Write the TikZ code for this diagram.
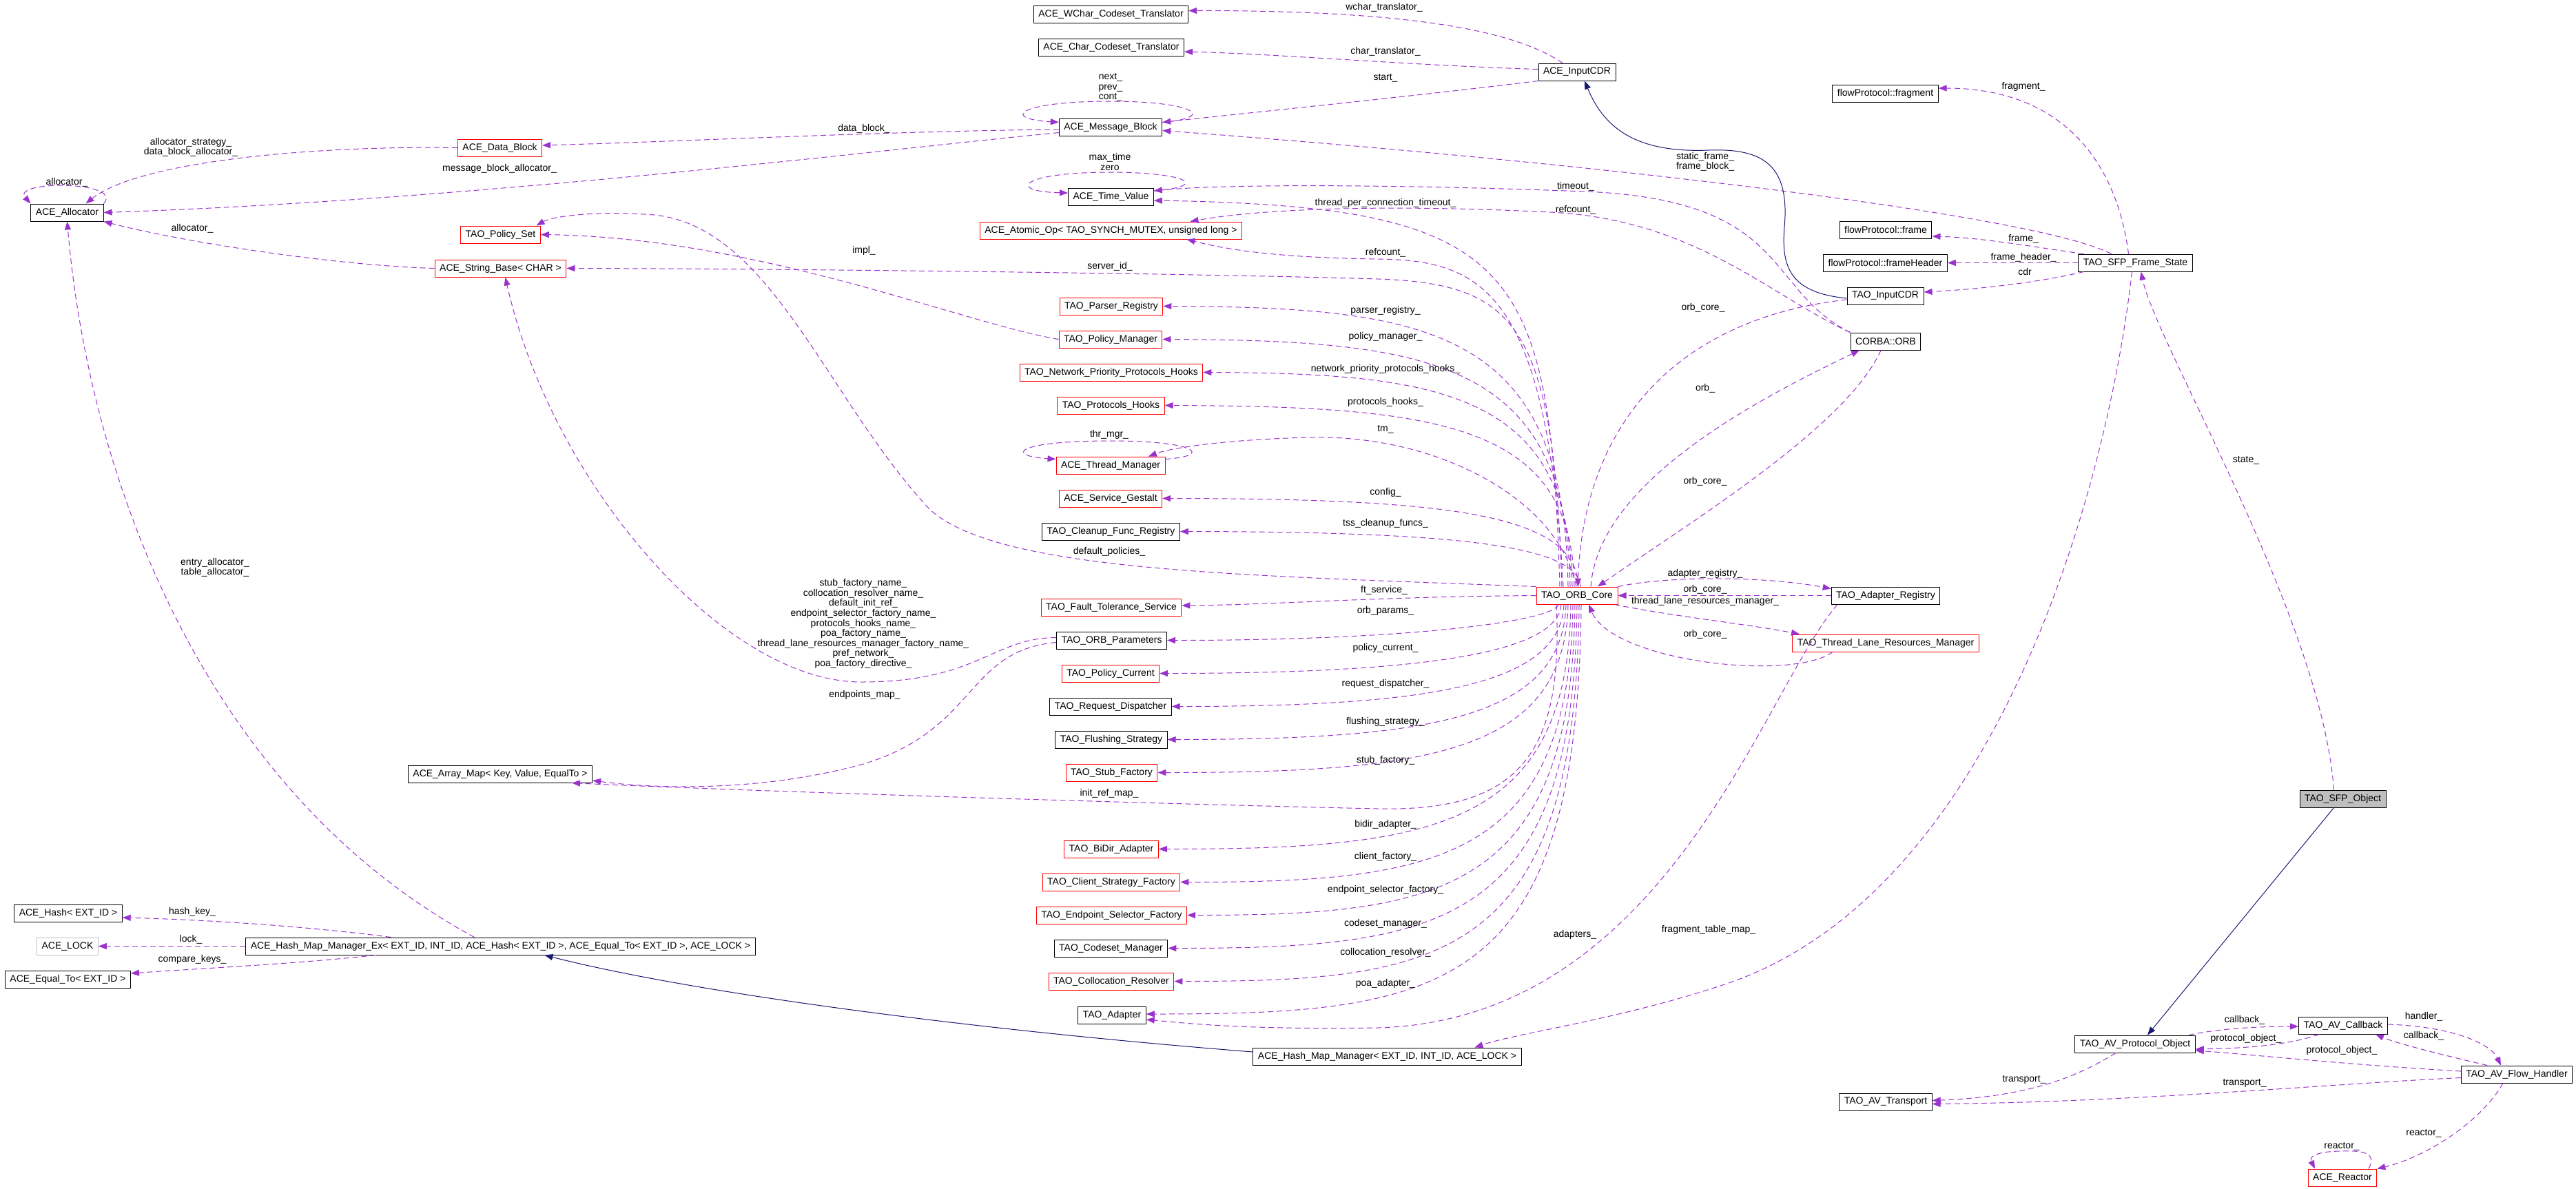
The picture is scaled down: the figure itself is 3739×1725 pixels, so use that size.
\documentclass[tikz,border=0pt]{standalone}
\usepackage{fontspec}
\setmainfont{Liberation Sans}
\usetikzlibrary{arrows.meta}
\definecolor{edgepurple}{RGB}{154,50,205}
\definecolor{inhblue}{RGB}{25,25,112}
\definecolor{curgrey}{RGB}{191,191,191}
\newcommand{\dxfont}{\fontsize{14}{14.6}\selectfont}

\begin{document}
\begin{tikzpicture}[x=1pt,y=-1pt,
  cls/.style={draw=black,line width=1pt,fill=white,font=\dxfont,inner xsep=7pt,inner ysep=0pt,minimum height=25pt},
  rcls/.style={cls,draw=red},
  gcls/.style={cls,draw=curgrey},
  curcls/.style={cls,fill=curgrey},
  lbl/.style={font=\dxfont,inner sep=0pt,align=center},
  mem/.style={draw=edgepurple,line width=1pt,dash pattern=on 8pt off 5pt,-{Triangle[length=12pt,width=9pt]}},
  inh/.style={draw=inhblue,line width=1pt,-{Triangle[length=12pt,width=9pt]}}]

 \path[use as bounding box,fill=white] (0,0) rectangle (3739,1725);

 % classes, left side
 \node[cls] (alloc) at (97.5,308.5) {ACE\_Allocator};
 \node[cls] (hash) at (99,1325.5) {ACE\_Hash< EXT\_ID >};
 \node[gcls] (lock) at (98,1373.5) {ACE\_LOCK};
 \node[cls] (equal) at (98.5,1421.5) {ACE\_Equal\_To< EXT\_ID >};
 \node[rcls] (datablk) at (725.5,214.5) {ACE\_Data\_Block};
 \node[rcls] (polset) at (726.5,340.5) {TAO\_Policy\_Set};
 \node[rcls] (strbase) at (726.5,389.5) {ACE\_String\_Base< CHAR >};
 \node[cls] (arrmap) at (726,1123.5) {ACE\_Array\_Map< Key, Value, EqualTo >};
 \node[cls] (hashex) at (726.5,1373.5) {ACE\_Hash\_Map\_Manager\_Ex< EXT\_ID, INT\_ID, ACE\_Hash< EXT\_ID >, ACE\_Equal\_To< EXT\_ID >, ACE\_LOCK >};

 % classes, middle column
 \node[cls] (wchar) at (1612.5,20.5) {ACE\_WChar\_Codeset\_Translator};
 \node[cls] (chartr) at (1613,69) {ACE\_Char\_Codeset\_Translator};
 \node[cls] (msgblk) at (1612,184.5) {ACE\_Message\_Block};
 \node[cls] (timeval) at (1612.5,286) {ACE\_Time\_Value};
 \node[rcls] (atomic) at (1612.5,334.5) {ACE\_Atomic\_Op< TAO\_SYNCH\_MUTEX, unsigned long >};
 \node[rcls] (parser) at (1613,444.5) {TAO\_Parser\_Registry};
 \node[rcls] (polmgr) at (1612,492.5) {TAO\_Policy\_Manager};
 \node[rcls] (nphooks) at (1613,540.5) {TAO\_Network\_Priority\_Protocols\_Hooks};
 \node[rcls] (phooks) at (1612.5,588.5) {TAO\_Protocols\_Hooks};
 \node[rcls] (thrmgr) at (1612,675.5) {ACE\_Thread\_Manager};
 \node[rcls] (gestalt) at (1612,723.5) {ACE\_Service\_Gestalt};
 \node[cls] (cleanup) at (1612.5,771.5) {TAO\_Cleanup\_Func\_Registry};
 \node[rcls] (ftserv) at (1613,881.5) {TAO\_Fault\_Tolerance\_Service};
 \node[cls] (orbparams) at (1613.5,929.5) {TAO\_ORB\_Parameters};
 \node[rcls] (polcur) at (1612,977.5) {TAO\_Policy\_Current};
 \node[cls] (reqdisp) at (1612,1025.5) {TAO\_Request\_Dispatcher};
 \node[cls] (flush) at (1613,1073.5) {TAO\_Flushing\_Strategy};
 \node[rcls] (stubfac) at (1613.5,1121.5) {TAO\_Stub\_Factory};
 \node[rcls] (bidir) at (1613,1232.5) {TAO\_BiDir\_Adapter};
 \node[rcls] (clifac) at (1613,1280.5) {TAO\_Client\_Strategy\_Factory};
 \node[rcls] (endpsel) at (1613.5,1328.5) {TAO\_Endpoint\_Selector\_Factory};
 \node[cls] (codeset) at (1612.5,1376.5) {TAO\_Codeset\_Manager};
 \node[rcls] (colloc) at (1613,1424.5) {TAO\_Collocation\_Resolver};
 \node[cls] (adapter) at (1614,1473.5) {TAO\_Adapter};
 \node[cls] (hashmgr) at (2013.5,1533.5) {ACE\_Hash\_Map\_Manager< EXT\_ID, INT\_ID, ACE\_LOCK >};
 \node[cls] (inputcdr) at (2289,104.5) {ACE\_InputCDR};
 \node[rcls] (orbcore) at (2289,864.5) {TAO\_ORB\_Core};

 % classes, right side
 \node[cls] (fragment) at (2736.5,135.5) {flowProtocol::fragment};
 \node[cls] (frame) at (2737,333.5) {flowProtocol::frame};
 \node[cls] (fheader) at (2736.5,381.5) {flowProtocol::frameHeader};
 \node[cls] (taocdr) at (2736.5,429.5) {TAO\_InputCDR};
 \node[cls] (orb) at (2737,495.5) {CORBA::ORB};
 \node[cls] (adreg) at (2737,864.5) {TAO\_Adapter\_Registry};
 \node[rcls] (tlrm) at (2737,933.5) {TAO\_Thread\_Lane\_Resources\_Manager};
 \node[cls] (transp) at (2737,1599.5) {TAO\_AV\_Transport};
 \node[cls] (fstate) at (3099.5,381.5) {TAO\_SFP\_Frame\_State};
 \node[cls] (protobj) at (3099,1515.5) {TAO\_AV\_Protocol\_Object};
 \node[curcls] (sfpobj) at (3400.5,1159.5) {TAO\_SFP\_Object};
 \node[cls] (avcb) at (3401,1488.5) {TAO\_AV\_Callback};
 \node[rcls] (reactor) at (3400,1709.5) {ACE\_Reactor};
 \node[cls] (flowh) at (3653,1559.5) {TAO\_AV\_Flow\_Handler};

 % edges into the allocator
 \draw[mem] (alloc.north east) .. controls (180,262) and (15,262) .. (alloc.north west);
 \draw[mem] (datablk.west) .. controls (450,211) and (200,235) .. ([xshift=27pt]alloc.north);
 \draw[mem] ([yshift=-8pt]msgblk.west) .. controls (1300,215) and (700,290) .. (alloc.east);
 \draw[mem] (strbase.west) .. controls (480,385) and (260,350) .. (alloc.south east);
 \draw[mem] ([xshift=-38pt]hashex.north) .. controls (300,1150) and (130,700) .. (alloc.south);

 % message block, cdr, time value
 \draw[mem] ([yshift=-3.5pt]msgblk.west) .. controls (1300,190) and (1000,205) .. ([yshift=3.5pt]datablk.east);
 \draw[mem] ([yshift=7pt]msgblk.east) .. controls (1770,170) and (1730,147) .. (1612,147) .. controls (1480,147) and (1450,172) .. ([yshift=7pt]msgblk.west);
 \draw[mem] ([xshift=-21pt]inputcdr.north) .. controls (2200,45) and (2050,15) .. ([yshift=5pt]wchar.east);
 \draw[mem] ([yshift=4pt]inputcdr.west) .. controls (2050,95) and (1850,78) .. ([yshift=-6pt]chartr.east);
 \draw[mem] (inputcdr.south west) .. controls (2050,140) and (1800,165) .. ([yshift=7pt]msgblk.east);
 \draw[mem] ([xshift=-35pt]fstate.north) .. controls (2950,310) and (2300,235) .. ([yshift=-5pt]msgblk.east);
 \draw[mem] ([yshift=9pt]timeval.east) .. controls (1760,270) and (1720,250) .. (1612,250) .. controls (1480,250) and (1460,278) .. ([yshift=6pt]timeval.west);
 \draw[mem] (orb.north west) .. controls (2560,420) and (2600,290) .. (2300,278) .. controls (2100,270) and (1800,265) .. ([yshift=9pt]timeval.east);
 \draw[mem] (orb.north west) .. controls (2570,430) and (2460,318) .. (2250,308) .. controls (2050,298) and (1850,300) .. ([xshift=115pt]atomic.north);

 % orb core, upper fan
 \draw[mem] ([xshift=-25pt]orbcore.north) .. controls (2250,380) and (2200,300) .. ([yshift=-5pt]timeval.east);
 \draw[mem] ([xshift=-20pt]orbcore.north) .. controls (2245,420) and (2150,378) .. (2000,376) .. controls (1850,374) and (1780,362) .. ([xshift=110pt]atomic.south);
 \draw[mem] ([xshift=-22pt]orbcore.north) .. controls (2255,470) and (2200,412) .. (2000,405) .. controls (1700,396) and (1100,390) .. (strbase.east);
 \draw[mem] ([xshift=-13pt]orbcore.north) .. controls (2271,480) and (2080,446) .. (parser.east);
 \draw[mem] ([xshift=-10pt]orbcore.north) .. controls (2274,525) and (2080,494) .. (polmgr.east);
 \draw[mem] ([xshift=-7pt]orbcore.north) .. controls (2278,570) and (2090,542) .. (nphooks.east);
 \draw[mem] ([xshift=-4pt]orbcore.north) .. controls (2282,615) and (2090,590) .. (phooks.east);
 \draw[mem] ([xshift=-1pt]orbcore.north) .. controls (2260,720) and (2080,630) .. (1900,635) .. controls (1780,638) and (1700,650) .. ([xshift=55pt]thrmgr.north);
 \draw[mem] ([yshift=9pt]thrmgr.east) .. controls (1760,662) and (1740,640) .. (1612,640) .. controls (1470,640) and (1460,662) .. ([yshift=9pt]thrmgr.west);
 \draw[mem] ([xshift=2pt]orbcore.north) .. controls (2288,745) and (2100,724) .. (gestalt.east);
 \draw[mem] ([xshift=5pt]orbcore.north) .. controls (2290,790) and (2100,772) .. (cleanup.east);
 \draw[mem] (orbcore.north west) .. controls (1800,835) and (1450,830) .. (1350,740) .. controls (1200,580) and (1120,330) .. (950,312) .. controls (860,305) and (800,315) .. ([xshift=52pt]polset.north);
 \draw[mem] (polmgr.west) .. controls (1400,470) and (1100,345) .. (polset.east);

 % orb core, lower fan
 \draw[mem] (orbcore.west) .. controls (2000,866) and (1850,878) .. ([yshift=2.5pt]ftserv.east);
 \draw[mem] ([xshift=-27pt]orbcore.south) .. controls (2257,900) and (2062,929.5) .. (orbparams.east);
 \draw[mem] ([xshift=-23pt]orbcore.south) .. controls (2261,948) and (2066,977.5) .. (polcur.east);
 \draw[mem] ([xshift=-19pt]orbcore.south) .. controls (2265,996) and (2070,1025.5) .. (reqdisp.east);
 \draw[mem] ([xshift=-16pt]orbcore.south) .. controls (2268,1044) and (2073,1073.5) .. (flush.east);
 \draw[mem] ([xshift=-13pt]orbcore.south) .. controls (2271,1092) and (2076,1121.5) .. (stubfac.east);
 \draw[mem] ([xshift=-30pt]orbcore.south) .. controls (2270,1100) and (2200,1178) .. (2000,1174) .. controls (1600,1165) and (1000,1145) .. ([xshift=104pt]arrmap.south);
 \draw[mem] ([xshift=-9pt]orbcore.south) .. controls (2275,1203) and (2080,1232.5) .. (bidir.east);
 \draw[mem] ([xshift=-6pt]orbcore.south) .. controls (2278,1251) and (2083,1280.5) .. (clifac.east);
 \draw[mem] ([xshift=-3pt]orbcore.south) .. controls (2281,1299) and (2086,1328.5) .. (endpsel.east);
 \draw[mem] (orbcore.south) .. controls (2284,1347) and (2089,1376.5) .. (codeset.east);
 \draw[mem] ([xshift=3pt]orbcore.south) .. controls (2287,1395) and (2092,1424.5) .. (colloc.east);
 \draw[mem] ([xshift=6pt]orbcore.south) .. controls (2290,1442) and (2095,1472) .. ([yshift=1.5pt]adapter.east);
 \draw[mem] ([yshift=4pt]orbparams.west) .. controls (1440,926) and (1420,990) .. (1250,990) .. controls (1050,990) and (800,700) .. ([xshift=7pt]strbase.south);
 \draw[mem] ([yshift=-3pt]orbparams.west) .. controls (1400,945) and (1420,1060) .. (1250,1110) .. controls (1100,1150) and (950,1145) .. ([yshift=-9.5pt]arrmap.east);

 % orb, adapters, lanes
 \draw[mem] ([xshift=20pt]orbcore.north) .. controls (2320,700) and (2550,580) .. ([xshift=-38pt]orb.south);
 \draw[mem] ([xshift=-7pt]orb.south) .. controls (2680,620) and (2450,760) .. ([xshift=30pt]orbcore.north);
 \draw[mem] ([yshift=-5.5pt]taocdr.west) .. controls (2450,460) and (2300,600) .. ([xshift=1pt]orbcore.north);
 \draw[mem] (orbcore.north east) .. controls (2420,836) and (2560,836) .. ([yshift=10pt]adreg.west);
 \draw[mem] (adreg.west) -- (orbcore.east);
 \draw[mem] ([xshift=-5pt]orbcore.south east) .. controls (2430,895) and (2530,905) .. ([xshift=-125pt]tlrm.north);
 \draw[mem] ([xshift=-77pt]tlrm.south) .. controls (2600,990) and (2340,960) .. ([xshift=17pt]orbcore.south);
 \draw[mem] ([xshift=-70pt]adreg.south) .. controls (2560,1000) and (2420,1480) .. (2000,1492) .. controls (1800,1495) and (1720,1485) .. ([yshift=-6.5pt]adapter.east);

 % frame state
 \draw[mem] ([xshift=-10pt]fstate.north) .. controls (3070,220) and (2980,128) .. ([yshift=7.5pt]fragment.east);
 \draw[mem] ([xshift=-75pt]fstate.north) .. controls (2960,360) and (2880,345) .. ([yshift=-9.5pt]frame.east);
 \draw[mem] (fstate.west) -- (fheader.east);
 \draw[mem] ([xshift=-75pt]fstate.south) .. controls (2960,410) and (2870,420) .. ([yshift=5.5pt]taocdr.east);
 \draw[mem] ([xshift=-5pt]fstate.south) .. controls (3060,700) and (2900,1300) .. (2500,1430) .. controls (2350,1480) and (2200,1500) .. ([xshift=127pt]hashmgr.north);
 \draw[mem] ([xshift=-13pt]sfpobj.north) .. controls (3370,900) and (3130,500) .. ([xshift=8pt]fstate.south);

 % hash map
 \draw[mem] ([xshift=-159pt]hashex.north) .. controls (450,1345) and (300,1335) .. ([yshift=-6.5pt]hash.east);
 \draw[mem] (hashex.west) -- (lock.east);
 \draw[mem] ([xshift=-181pt]hashex.south) .. controls (420,1400) and (300,1405) .. ([yshift=8.5pt]equal.east);

 % inheritance
 \draw[inh] ([yshift=6.5pt]hashmgr.west) .. controls (1400,1494) and (1000,1440) .. ([xshift=64pt]hashex.south);
 \draw[inh] ([yshift=-3.5pt]taocdr.west) .. controls (2600,425) and (2585,390) .. (2590,330) .. controls (2598,240) and (2560,215) .. (2480,218) .. controls (2380,222) and (2330,190) .. ([xshift=11pt]inputcdr.south);
 \draw[inh] ([xshift=-13pt]sfpobj.south) -- ([xshift=18pt]protobj.north);

 % av objects
 \draw[mem] ([xshift=78pt]protobj.north) .. controls (3220,1493) and (3280,1490) .. ([yshift=-1.5pt]avcb.west);
 \draw[mem] ([xshift=-35pt]avcb.south) .. controls (3320,1518) and (3250,1522) .. ([yshift=-7.5pt]protobj.east);
 \draw[mem] ([yshift=1.5pt]avcb.east) .. controls (3560,1490) and (3615,1515) .. ([xshift=-23pt]flowh.north);
 \draw[mem] ([xshift=-43pt]flowh.north) .. controls (3540,1530) and (3480,1515) .. ([xshift=47pt]avcb.south);
 \draw[mem] ([yshift=4.5pt]flowh.west) .. controls (3400,1545) and (3260,1530) .. ([yshift=-9.5pt]protobj.east);
 \draw[mem] ([xshift=-28pt]protobj.south) .. controls (3020,1560) and (2950,1592) .. ([yshift=2pt]transp.east);
 \draw[mem] ([yshift=-5pt]flowh.west) .. controls (3400,1572) and (3100,1600) .. ([yshift=-3pt]transp.east);
 \draw[mem] ([xshift=-20pt]flowh.south) .. controls (3600,1630) and (3520,1680) .. (reactor.north east);
 \draw[mem] ([xshift=38pt]reactor.north) .. controls (3452,1672) and (3425,1670) .. (3400,1671) .. controls (3372,1671) and (3350,1676) .. ([xshift=-40pt]reactor.north);

 % edge labels
 \node[lbl] (lalloc) at (97,265) {allocator\_};
 \node[lbl] (ldballoc) at (277,214) {allocator\_strategy\_\\data\_block\_allocator\_};
 \node[lbl] (lmballoc) at (725,245) {message\_block\_allocator\_};
 \node[lbl] (lsalloc) at (279,332) {allocator\_};
 \node[lbl] (ltalloc) at (312,824) {entry\_allocator\_\\table\_allocator\_};
 \node[lbl] (ldblk) at (1254,187) {data\_block\_};
 \node[lbl] (lnext) at (1612,127) {next\_\\prev\_\\cont\_};
 \node[lbl] (lwchar) at (2009,11) {wchar\_translator\_};
 \node[lbl] (lchar) at (2011,75) {char\_translator\_};
 \node[lbl] (lstart) at (2011,113) {start\_};
 \node[lbl] (lstatic) at (2475,235) {static\_frame\_\\frame\_block\_};
 \node[lbl] (lzero) at (1611,235) {max\_time\\zero};
 \node[lbl] (ltimeout) at (2287,271) {timeout\_};
 \node[lbl] (lrefc1) at (2287,305) {refcount\_};
 \node[lbl] (ltpct) at (2011,295) {thread\_per\_connection\_timeout\_};
 \node[lbl] (lrefc2) at (2011,367) {refcount\_};
 \node[lbl] (limpl) at (1254,364) {impl\_};
 \node[lbl] (lsrvid) at (1611,387) {server\_id\_};
 \node[lbl] (lparser) at (2011,451) {parser\_registry\_};
 \node[lbl] (lpolmgr) at (2011,489) {policy\_manager\_};
 \node[lbl] (lnph) at (2011,536) {network\_priority\_protocols\_hooks\_};
 \node[lbl] (lph) at (2011,584) {protocols\_hooks\_};
 \node[lbl] (ltm) at (2011,623) {tm\_};
 \node[lbl] (lthr) at (1610,631) {thr\_mgr\_};
 \node[lbl] (lconfig) at (2011,715) {config\_};
 \node[lbl] (ltss) at (2011,760) {tss\_cleanup\_funcs\_};
 \node[lbl] (ldefpol) at (1610,801) {default\_policies\_};
 \node[lbl] (lft) at (2009,857) {ft\_service\_};
 \node[lbl] (lorbp) at (2011,887) {orb\_params\_};
 \node[lbl] (lpolcur) at (2011,941) {policy\_current\_};
 \node[lbl] (lreqd) at (2011,993) {request\_dispatcher\_};
 \node[lbl] (lflush) at (2011,1048) {flushing\_strategy\_};
 \node[lbl] (lstub) at (2011,1104) {stub\_factory\_};
 \node[lbl] (linit) at (1610,1152) {init\_ref\_map\_};
 \node[lbl] (lbidir) at (2011,1197) {bidir\_adapter\_};
 \node[lbl] (lcli) at (2011,1244) {client\_factory\_};
 \node[lbl] (lendp) at (2011,1292) {endpoint\_selector\_factory\_};
 \node[lbl] (lcodeset) at (2011,1341) {codeset\_manager\_};
 \node[lbl] (lcolloc) at (2011,1383) {collocation\_resolver\_};
 \node[lbl] (lpoa) at (2011,1428) {poa\_adapter\_};
 \node[lbl] (lnames) at (1253,905.5) {stub\_factory\_name\_\\collocation\_resolver\_name\_\\default\_init\_ref\_\\endpoint\_selector\_factory\_name\_\\protocols\_hooks\_name\_\\poa\_factory\_name\_\\thread\_lane\_resources\_manager\_factory\_name\_\\pref\_network\_\\poa\_factory\_directive\_};
 \node[lbl] (lepmap) at (1255,1009) {endpoints\_map\_};
 \node[lbl] (lhkey) at (279,1324) {hash\_key\_};
 \node[lbl] (llock) at (277,1364) {lock\_};
 \node[lbl] (lcmp) at (279,1393) {compare\_keys\_};
 \node[lbl] (lorbc1) at (2472,447) {orb\_core\_};
 \node[lbl] (lorb) at (2475,564) {orb\_};
 \node[lbl] (lorbc2) at (2475,699) {orb\_core\_};
 \node[lbl] (ladreg) at (2475,833) {adapter\_registry\_};
 \node[lbl] (lorbc3) at (2475,856) {orb\_core\_};
 \node[lbl] (ltlrm) at (2475,873) {thread\_lane\_resources\_manager\_};
 \node[lbl] (lorbc4) at (2475,921) {orb\_core\_};
 \node[lbl] (ladapters) at (2286,1357) {adapters\_};
 \node[lbl] (lftm) at (2480,1350) {fragment\_table\_map\_};
 \node[lbl] (lfrag) at (2937,126) {fragment\_};
 \node[lbl] (lframe) at (2937,347) {frame\_};
 \node[lbl] (lfhdr) at (2937,374) {frame\_header\_};
 \node[lbl] (lcdr) at (2939,394) {cdr};
 \node[lbl] (lstate) at (3260,668) {state\_};
 \node[lbl] (lcb1) at (3258,1481) {callback\_};
 \node[lbl] (lpo1) at (3260,1508) {protocol\_object\_};
 \node[lbl] (lhandler) at (3518,1476) {handler\_};
 \node[lbl] (lcb2) at (3518,1504) {callback\_};
 \node[lbl] (lpo2) at (3399,1525) {protocol\_object\_};
 \node[lbl] (ltr1) at (2938,1567) {transport\_};
 \node[lbl] (ltr2) at (3258,1572) {transport\_};
 \node[lbl] (lreact1) at (3518,1645) {reactor\_};
 \node[lbl] (lreact2) at (3399,1664) {reactor\_};

\end{tikzpicture}
\end{document}
